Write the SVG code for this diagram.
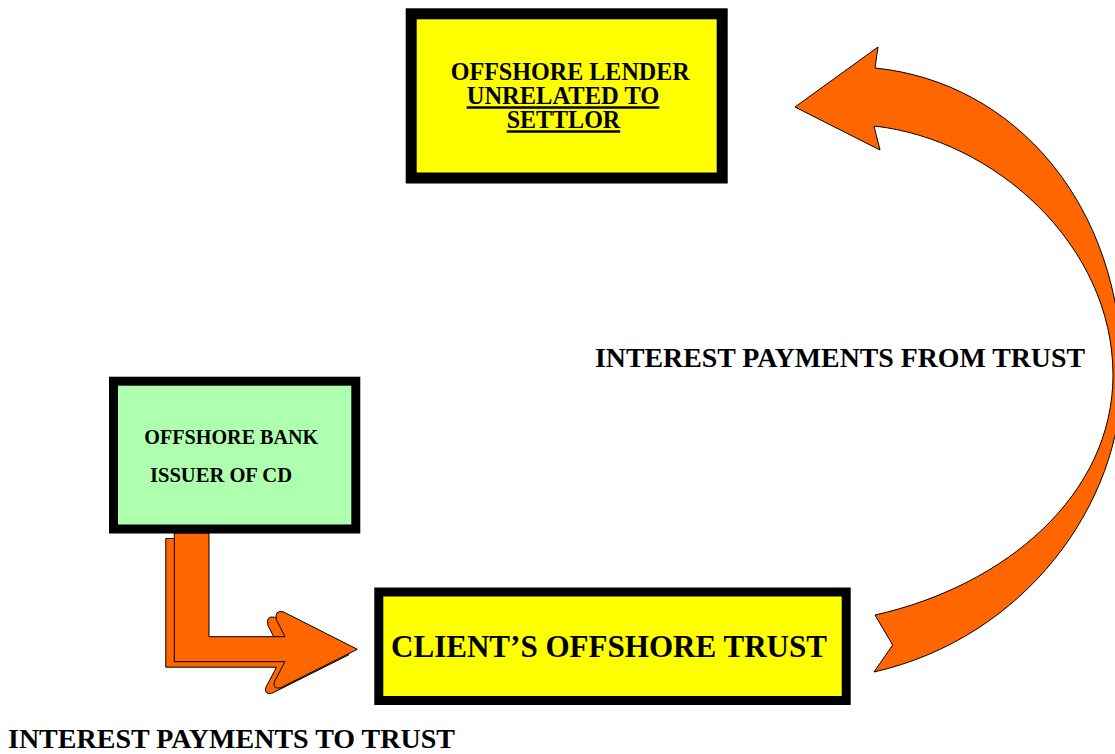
<svg xmlns="http://www.w3.org/2000/svg" width="1115" height="754" viewBox="0 0 1115 754">
<style>
.box{stroke:#000}
.yel{fill:#FFFF00}
.grn{fill:#AEFFAE}
.t{font-family:"Liberation Serif","Times New Roman",serif;font-weight:bold;fill:#000}
.arrow{fill:#FF6600;stroke:#000;stroke-width:1;stroke-linejoin:round}
</style>
<rect width="1115" height="754" fill="#fff"/>
<g id="connectors">
  <g id="arrow-bank-to-trust">
    <path class="arrow" transform="translate(-8.5,5.5)" d="M174.3,533 V661.7 H285 L274.5,681.5 Q272,689 280,688 L357.3,649.3 L283,611.7 Q274,610 276.5,620 L285,636.7 H209 V533 Z"/>
    <path class="arrow" d="M174.3,533 V661.7 H285 L274.5,681.5 Q272,689 280,688 L357.3,649.3 L283,611.7 Q274,610 276.5,620 L285,636.7 H209 V533 Z"/>
  </g>
  <path id="arrow-trust-to-lender" class="arrow" d="M875,68 C1015,82 1122,205 1122,375 C1122,505 1024,638 874,672 L892.7,645 L875,615 C1005,586 1113,495 1113,375 C1113,245 994,139 874,126 L880,150 L795,107 L878,47 Z"/>
  <text class="t" x="595" y="366.5" font-size="28" textLength="490" lengthAdjust="spacingAndGlyphs">INTEREST PAYMENTS FROM TRUST</text>
  <text class="t" x="8" y="748" font-size="28" textLength="447" lengthAdjust="spacingAndGlyphs">INTEREST PAYMENTS TO TRUST</text>
</g>
<g id="node-lender">
  <rect class="box yel" x="411.2" y="13.8" width="311" height="164.2" stroke-width="11"/>
  <text class="t" x="450.7" y="80" font-size="24.5" textLength="239" lengthAdjust="spacingAndGlyphs">OFFSHORE LENDER</text>
  <text class="t" x="466.7" y="104.3" font-size="24.5" text-decoration="underline">UNRELATED TO </text>
  <text class="t" x="506.7" y="128.3" font-size="24.5" text-decoration="underline" textLength="113.5" lengthAdjust="spacingAndGlyphs">SETTLOR</text>
</g>
<g id="node-bank">
  <rect class="box grn" x="113.5" y="381.2" width="242.3" height="147.8" stroke-width="9"/>
  <text class="t" x="144.3" y="444" font-size="20.5" textLength="174" lengthAdjust="spacingAndGlyphs">OFFSHORE BANK</text>
  <text class="t" x="150" y="481.7" font-size="20.5" textLength="142" lengthAdjust="spacingAndGlyphs">ISSUER OF CD</text>
</g>
<g id="node-trust">
  <rect class="box yel" x="378.8" y="592" width="467.4" height="108.5" stroke-width="9"/>
  <text class="t" x="391" y="657.3" font-size="31" textLength="436" lengthAdjust="spacingAndGlyphs">CLIENT’S OFFSHORE TRUST</text>
</g>
</svg>
